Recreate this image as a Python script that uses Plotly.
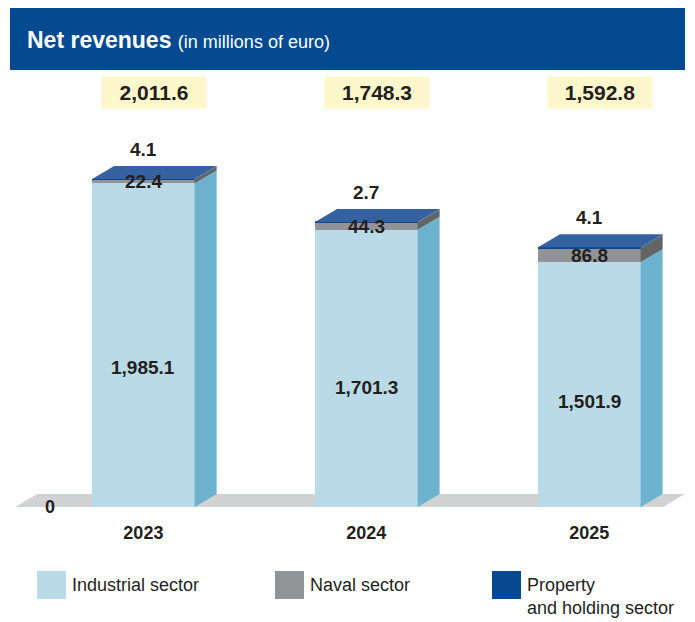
import plotly.graph_objects as go

years = ["2023", "2024", "2025"]
industrial = [1985.1, 1701.3, 1501.9]
naval = [22.4, 44.3, 86.8]
property_holding = [4.1, 2.7, 4.1]
totals = [2011.6, 1748.3, 1592.8]
sector_names = ["Industrial sector", "Naval sector", "Property<br>and holding sector"]

FRONT = ["#b9dae6", "#929396", "#074a91"]
SIDE = ["#6db3cf", "#636466", "#0b4a8e"]
TOP = "#3561a0"
FLOOR = "#d1d2d4"
BANNER = "#044a91"
INK = "#231f20"
FONT = "Liberation Sans Narrow, Arial Narrow, Liberation Sans, Arial, sans-serif"

W, H = 695, 622
BOTTOM = 115            # px below the zero line
PLOT_H = H - BOTTOM
X_RANGE = [-0.643, 2.474]
Y_MAX = 3110
BAR_W = 0.46
px_x = W / (X_RANGE[1] - X_RANGE[0])
px_y = PLOT_H / Y_MAX
DX = 22 / px_x          # depth offset of the 3D faces, in data units
DY = 13 / px_y


def py(pixel):
    """Pixel row (from top) -> paper y."""
    return (PLOT_H - pixel) / PLOT_H


def px(pixel):
    return pixel / W


def poly(points, color, layer="above"):
    path = "M " + " L ".join(f"{x},{y}" for x, y in points) + " Z"
    return dict(type="path", path=path, xref="x", yref="y", fillcolor=color,
                line=dict(width=0), layer=layer)


fig = go.Figure()
series = [industrial, naval, property_holding]
for vals, color, name in zip(series, FRONT, sector_names):
    fig.add_trace(go.Bar(x=list(range(len(years))), y=vals, width=BAR_W,
                         marker=dict(color=color, line=dict(width=0)),
                         name=name.replace("<br>", " "), showlegend=False))

shapes = []
# floor
fl, fr = -0.575, 2.33
shapes.append(poly([(fl, 0), (fr, 0), (fr + DX, DY), (fl + DX, DY)], FLOOR, "below"))

annotations = []
for i in range(len(years)):
    xl, xr = i - BAR_W / 2, i + BAR_W / 2
    base = 0
    for vals, side in zip(series, SIDE):
        top = base + vals[i]
        shapes.append(poly([(xr, base), (xr + DX, base + DY), (xr + DX, top + DY), (xr, top)], side))
        base = top
    shapes.append(poly([(xl, base), (xr, base), (xr + DX, base + DY), (xl + DX, base + DY)], TOP))

    lab = dict(font=dict(family=FONT, size=19, color=INK), showarrow=False)
    annotations.append(dict(x=i, y=industrial[i] * 0.43, text=f"<b>{industrial[i]:,.1f}</b>", **lab))
    annotations.append(dict(x=i, y=industrial[i] + naval[i] / 2, text=f"<b>{naval[i]:,.1f}</b>", **lab))
    annotations.append(dict(x=i, y=base + DY, yanchor="bottom", yshift=4,
                            text=f"<b>{property_holding[i]:,.1f}</b>", **lab))
    annotations.append(dict(x=i + DX / 2, y=py(92), yref="paper", yanchor="middle",
                            width=102, height=29,
                            bgcolor="#fdf7cb", text=f"<b>{totals[i]:,.1f}</b>",
                            font=dict(family=FONT, size=21, color=INK), showarrow=False))

annotations.append(dict(x=-0.42, y=0, yanchor="middle", text="<b>0</b>", showarrow=False,
                        font=dict(family=FONT, size=18, color=INK)))

# title banner
shapes.append(dict(type="rect", xref="paper", yref="paper", x0=px(10), x1=px(685),
                   y0=py(70), y1=py(8), fillcolor=BANNER, line=dict(width=0)))
annotations.append(dict(xref="paper", yref="paper", x=px(25), y=py(40), xanchor="left",
                        yanchor="middle", showarrow=False,
                        text="<b>Net revenues</b> <span style='font-size:18px'>(in millions of euro)</span>",
                        font=dict(family=FONT, size=23, color="white")))

# legend
leg_x = [37, 275, 492]
for lx, color, name in zip(leg_x, FRONT, sector_names):
    shapes.append(dict(type="rect", xref="paper", yref="paper", x0=px(lx), x1=px(lx + 29),
                       y0=py(599), y1=py(571), fillcolor=color, line=dict(width=0)))
    annotations.append(dict(xref="paper", yref="paper", x=px(lx + 33), y=py(573),
                            xanchor="left", yanchor="top", align="left", showarrow=False,
                            text=name, font=dict(family=FONT, size=18, color=INK)))

fig.update_layout(
    width=W, height=H,
    margin=dict(l=0, r=0, t=0, b=BOTTOM),
    barmode="stack",
    plot_bgcolor="white", paper_bgcolor="white",
    xaxis=dict(range=X_RANGE, tickvals=list(range(len(years))), ticktext=years,
               showgrid=False, zeroline=False, showline=False, ticks="",
               ticklabelstandoff=13,
               tickfont=dict(family=FONT, size=18, color=INK, weight="bold")),
    yaxis=dict(range=[0, Y_MAX], visible=False),
    shapes=shapes,
    annotations=annotations,
)

fig.write_html("out.html", config={"displayModeBar": False},
               post_script="document.body.style.margin = '0';")
